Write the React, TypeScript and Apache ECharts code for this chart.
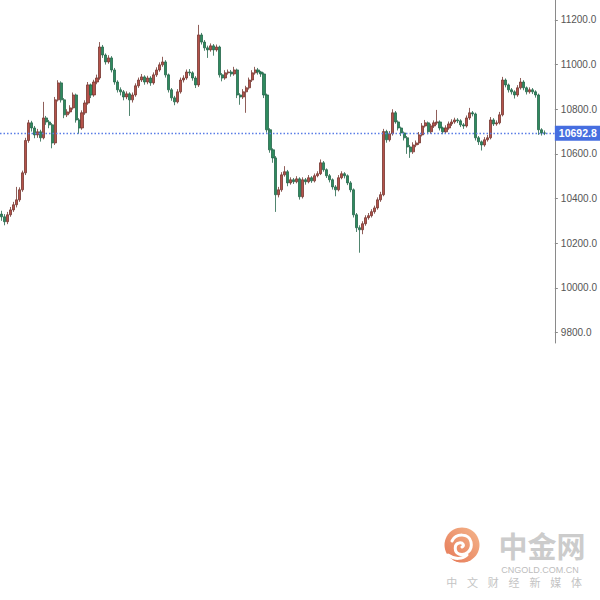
import React, { useEffect, useRef } from "react";
import * as echarts from "echarts";

// ---- data ----
const OPEN = [
  10330,10318,10296,10327,10349,10372,10394,10439,10515,10660,
  10739,10716,10685,10699,10672,10761,10743,10730,10649,10842,
  10918,10842,10775,10788,10806,10864,10752,10716,10784,10828,
  10909,10864,10922,10940,11079,11043,11012,11030,10976,10922,
  10887,10878,10855,10869,10842,10864,10905,10931,10945,10922,
  10940,10918,10954,10976,10999,11012,10954,10887,10851,10833,
  10878,10931,10940,10967,10963,10940,10909,11133,11101,11075,
  11066,11084,11066,11079,10954,10940,10963,10967,10958,10976,
  10864,10855,10878,10896,10931,10963,10976,10967,10958,10864,
  10708,10618,10582,10417,10439,10506,10520,10470,10484,10475,
  10488,10408,10484,10475,10493,10479,10502,10511,10560,10529,
  10502,10484,10452,10439,10493,10511,10502,10470,10439,10327,
  10269,10260,10287,10314,10323,10341,10358,10394,10417,10700,
  10663,10690,10784,10743,10716,10694,10672,10631,10609,10640,
  10649,10685,10725,10739,10699,10725,10739,10743,10716,10699,
  10716,10734,10743,10752,10748,10730,10725,10761,10784,10779,
  10672,10654,10640,10663,10672,10752,10734,10739,10775,10931,
  10909,10887,10878,10864,10896,10922,10896,10878,10887,10878,
  10864,10708,10694,
];

const CLOSE = [
  10318,10296,10327,10349,10372,10394,10439,10515,10660,10739,
  10716,10685,10699,10672,10761,10743,10730,10649,10842,10918,
  10842,10775,10788,10806,10864,10752,10716,10784,10828,10909,
  10864,10922,10940,11079,11043,11012,11030,10976,10922,10887,
  10878,10855,10869,10842,10864,10905,10931,10945,10922,10940,
  10918,10954,10976,10999,11012,10954,10887,10851,10833,10878,
  10931,10940,10967,10963,10940,10909,11133,11101,11075,11066,
  11084,11066,11079,10954,10940,10963,10967,10958,10976,10864,
  10855,10878,10896,10931,10963,10976,10967,10958,10864,10708,
  10618,10582,10417,10439,10506,10520,10470,10484,10475,10488,
  10408,10484,10475,10493,10479,10502,10511,10560,10529,10502,
  10484,10452,10439,10493,10511,10502,10470,10439,10327,10269,
  10260,10287,10314,10323,10341,10358,10394,10417,10700,10663,
  10690,10784,10743,10716,10694,10672,10631,10609,10640,10649,
  10685,10725,10739,10699,10725,10739,10743,10716,10699,10716,
  10734,10743,10752,10748,10730,10725,10761,10784,10779,10672,
  10654,10640,10663,10672,10752,10734,10739,10775,10931,10909,
  10887,10878,10864,10896,10922,10896,10878,10887,10878,10864,
  10708,10694,10692.8,
];

const HIGH = [
  10345,10330,10340,10362,10385,10452,10450,10525,10672,10752,
  10748,10725,10712,10708,10833,10770,10752,10738,10855,10930,
  10925,10850,10800,10818,10875,10870,10760,10795,10840,10922,
  10915,10932,10955,11101,11088,11050,11042,11038,10985,10930,
  10898,10886,10880,10876,10875,10916,10942,10958,10952,10950,
  10948,10965,10988,11010,11035,11020,10960,10895,10860,10890,
  10942,10952,10978,10980,10970,10948,11178,11142,11110,11085,
  11095,11092,11090,11085,10962,10975,10978,10976,10990,10982,
  10872,10890,10905,10942,10975,10990,10985,10972,10965,10870,
  10715,10625,10590,10452,10518,10545,10528,10495,10492,10500,
  10495,10495,10492,10505,10500,10512,10522,10575,10568,10535,
  10510,10490,10460,10505,10522,10518,10508,10478,10445,10335,
  10280,10298,10325,10335,10352,10368,10405,10430,10712,10708,
  10702,10800,10792,10750,10722,10700,10680,10640,10652,10660,
  10698,10738,10752,10745,10735,10750,10797,10750,10722,10728,
  10745,10755,10762,10760,10755,10738,10772,10806,10792,10785,
  10680,10660,10675,10685,10765,10760,10750,10788,10945,10938,
  10915,10895,10885,10908,10940,10930,10902,10898,10895,10885,
  10870,10715,10705,
];

const LOW = [
  10300,10280,10285,10318,10340,10360,10385,10430,10505,10650,
  10700,10670,10672,10655,10665,10730,10715,10625,10640,10835,
  10830,10760,10765,10780,10798,10740,10690,10708,10775,10820,
  10850,10856,10912,10932,11030,11000,11004,10965,10910,10875,
  10862,10840,10845,10770,10830,10856,10896,10922,10910,10912,
  10905,10910,10945,10968,10990,10942,10875,10838,10818,10826,
  10870,10920,10932,10950,10928,10895,10900,11090,11062,11030,
  11058,11040,11058,10942,10925,10932,10955,10946,10950,10850,
  10820,10846,10784,10888,10922,10955,10955,10945,10850,10695,
  10605,10560,10340,10405,10430,10498,10455,10462,10465,10468,
  10395,10400,10462,10468,10470,10472,10495,10505,10520,10492,
  10472,10440,10410,10432,10486,10490,10460,10428,10315,10250,
  10157,10240,10278,10305,10315,10332,10350,10385,10410,10650,
  10655,10682,10735,10705,10680,10660,10600,10582,10600,10630,
  10640,10678,10718,10688,10690,10716,10730,10705,10688,10690,
  10708,10725,10735,10738,10720,10712,10718,10752,10768,10660,
  10640,10615,10632,10655,10665,10725,10726,10732,10768,10898,
  10875,10866,10848,10856,10888,10885,10866,10870,10868,10852,
  10685,10682,10684,
];

const Y_TICKS = [9800, 10000, 10200, 10400, 10600, 10800, 11000, 11200];
const Y_MIN = 9752.5;
const Y_MAX = 11289.5;
const LAST_PRICE = 10692.8;
const EMPTY_SLOTS_AT_END = 3;
const CATEGORIES = Array.from(
  { length: CLOSE.length + EMPTY_SLOTS_AT_END },
  (_, i) => String(i)
);

const WATERMARK_TITLE = "中金网";
const WATERMARK_DOMAIN = "CNGOLD.COM.CN";
const WATERMARK_SLOGAN = ["中", "文", "财", "经", "新", "媒", "体"];

const SWIRL_D =
  "M -10 -4 C -6 -12 7 -12 9 -3 C 11 6 3 11 -3 9 C -8 7 -8 -1 -3 -2 C 1 -3 3 1 0 2 M 5 10 C 1 14 -7 15 -14 10";

let swirlRegistered = false;
function ensureSwirl() {
  if (swirlRegistered) return;
  echarts.graphic.registerShape("swirl", echarts.graphic.extendPath(SWIRL_D, {}) as any);
  swirlRegistered = true;
}

const BLUE = "#5a7de6";

export default function App() {
  const ref = useRef<HTMLDivElement>(null);

  useEffect(() => {
    if (!ref.current) return;
    ensureSwirl();
    const chart = echarts.init(ref.current, undefined, { renderer: "svg" });

    const candles = CLOSE.map((c, i) => [OPEN[i], c, LOW[i], HIGH[i]]);

    const sloganEls = WATERMARK_SLOGAN.map((ch, i) => ({
      type: "text",
      x: 451.7 + i * 20.8,
      y: 582,
      silent: true,
      style: {
        text: ch,
        font: '11px "Noto Sans CJK SC"',
        fill: "#c4c4c4",
        textAlign: "center",
        textVerticalAlign: "middle",
      },
    }));

    chart.setOption({
      animation: false,
      backgroundColor: "#ffffff",
      grid: { left: 0, right: 44, top: 0, bottom: 257, containLabel: false },
      xAxis: {
        type: "category",
        data: CATEGORIES,
        boundaryGap: true,
        show: false,
      },
      yAxis: {
        type: "value",
        position: "right",
        min: Y_MIN,
        max: Y_MAX,
        scale: true,
        axisLine: { show: true, lineStyle: { color: "#8a8a8a", width: 1 } },
        axisTick: {
          show: true,
          length: 3,
          customValues: Y_TICKS,
          lineStyle: { color: "#8a8a8a" },
        },
        axisLabel: {
          show: true,
          customValues: Y_TICKS,
          margin: 6,
          color: "#555555",
          fontSize: 10,
          fontFamily: '"Liberation Sans", Arial, sans-serif',
          formatter: (v: number) => v.toFixed(1),
        },
        splitLine: { show: false },
      },
      series: [
        {
          type: "candlestick",
          data: candles,
          barWidth: 2.6,
          z: 3,
          itemStyle: {
            color: "#b5524a",
            color0: "#2e8b5e",
            borderColor: "#743630",
            borderColor0: "#24664a",
            borderWidth: 0.8,
          },
        },
        {
          type: "line",
          name: "last",
          data: [],
          z: 2,
          color: BLUE,
          lineStyle: { color: BLUE },
          itemStyle: { color: BLUE },
          markLine: {
            silent: true,
            symbol: ["none", "none"],
            lineStyle: { color: BLUE, type: [1.5, 2], width: 1.3, opacity: 1 },
            label: {
              show: true,
              position: "end",
              distance: 0,
              formatter: () => LAST_PRICE.toFixed(1),
              backgroundColor: "#466ee0",
              color: "#ffffff",
              fontSize: 10.5,
              fontWeight: "bold",
              fontFamily: '"Liberation Sans", Arial, sans-serif',
              padding: [2, 4, 2, 4],
            },
            data: [{ yAxis: LAST_PRICE }],
          },
        },
      ],
      graphic: [
        {
          type: "circle",
          silent: true,
          shape: { cx: 462, cy: 545, r: 17.5 },
          style: {
            fill: {
              type: "linear",
              x: 0,
              y: 1,
              x2: 1,
              y2: 0,
              colorStops: [
                { offset: 0, color: "#e36a45" },
                { offset: 1, color: "#f3ad7e" },
              ],
            },
            opacity: 0.9,
          },
        },
        {
          type: "swirl",
          silent: true,
          x: 462,
          y: 545,
          style: {
            fill: "none",
            stroke: "#ffffff",
            lineWidth: 3,
            lineCap: "round",
          },
        },
        {
          type: "text",
          silent: true,
          x: 542,
          y: 545,
          style: {
            text: WATERMARK_TITLE,
            font: 'bold 29px "Noto Sans CJK SC"',
            fill: "#cccccc",
            textAlign: "center",
            textVerticalAlign: "middle",
          },
        },
        {
          type: "text",
          silent: true,
          x: 540,
          y: 570,
          style: {
            text: WATERMARK_DOMAIN,
            font: '9px "Liberation Sans", Arial, sans-serif',
            fill: "#bdbdbd",
            textAlign: "center",
            textVerticalAlign: "middle",
          },
        },
        ...sloganEls,
      ],
    });

    return () => chart.dispose();
  }, []);

  return (
    <div
      ref={ref}
      style={{ position: "absolute", left: 0, top: 0, width: 600, height: 600 }}
    />
  );
}
